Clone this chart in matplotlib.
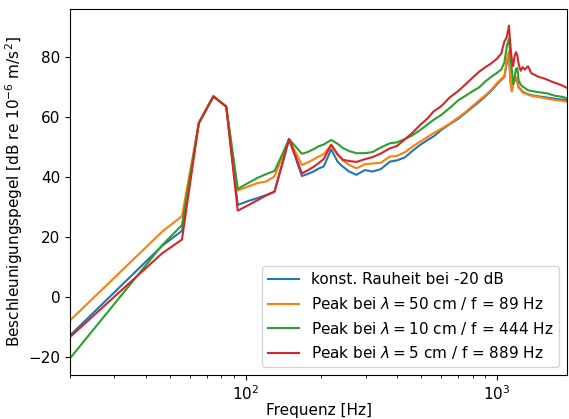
import matplotlib
matplotlib.use('Agg')
import matplotlib.pyplot as plt

plt.rcParams['font.size'] = 11

# Frequenzstuetzstellen [Hz]
freq = [20, 46.5, 55.8, 65.1, 74.4, 83.7, 93.0, 102.3, 111.6, 120.9, 130.2, 139.5,
        148.8, 158.1, 167.4, 176.7, 186.0, 195.3, 204.6, 219.0, 232.5, 244, 258, 276,
        298, 320, 345, 375, 400, 430, 460, 495, 530, 560, 600, 650, 700, 750, 800,
        850, 900, 950, 1000, 1040, 1070, 1095, 1116, 1132, 1146, 1160, 1175, 1190,
        1205, 1220, 1243, 1265, 1290, 1330, 1370, 1410, 1460, 1520, 1580, 1640, 1700,
        1770, 1840, 1900]

# Beschleunigungspegel [dB]
konst = [-12.7, 17.1, 22.1, 57.9, 66.8, 63.4, 30.7, 32.0, 33.0, 34.0, 35.1, 44.0,
         52.6, 46.3, 40.3, 41.0, 41.8, 42.8, 43.5, 49.2, 45.0, 43.4, 41.8, 40.7,
         42.3, 41.8, 42.6, 45.1, 45.5, 46.5, 48.6, 50.7, 52.3, 53.5, 55.6, 57.6, 59.3,
         61.3, 63.2, 65.0, 66.8, 68.7, 70.8, 72.3, 73.2, 78.0, 81.0, 71.5, 68.8,
         70.8, 72.0, 72.8, 71.5, 69.8, 69.2, 68.3, 68.0, 67.5, 67.2, 67.0, 66.8,
         66.6, 66.4, 66.2, 66.0, 65.8, 65.7, 65.6]

peak_50cm = [-7.7, 21.8, 27.0, 57.9, 66.8, 63.4, 35.5, 36.8, 38.0, 38.5, 40.2, 46.4,
             52.6, 48.2, 44.0, 44.8, 45.8, 46.8, 47.6, 50.7, 47.3, 45.5, 44.0, 42.9,
             44.2, 44.5, 44.7, 46.8, 47.0, 48.2, 50.0, 51.8, 53.3, 54.6, 56.0, 57.8,
             59.7, 61.6, 63.6, 65.5, 67.2, 69.0, 71.2, 72.6, 73.5, 79.0, 81.8, 72.0,
             68.4, 70.5, 72.5, 73.2, 72.0, 69.5, 69.0, 68.0, 67.8, 67.3, 67.0, 66.8,
             66.6, 66.3, 66.1, 65.8, 65.6, 65.4, 65.2, 65.0]

peak_10cm = [-20.3, 17.3, 24.0, 57.9, 66.8, 63.4, 36.0, 38.0, 39.7, 41.0, 42.0, 47.3,
             52.6, 50.1, 47.7, 48.3, 49.2, 50.2, 50.8, 52.3, 51.0, 49.6, 48.6, 47.9,
             47.9, 48.3, 49.8, 51.2, 51.5, 52.6, 53.8, 55.6, 57.5, 59.0, 60.6, 63.0,
             65.4, 67.0, 68.5, 69.8, 71.8, 73.3, 74.6, 75.7, 78.0, 83.5, 86.0, 80.0,
             75.7, 71.0, 73.0, 76.0, 76.2, 72.0, 70.7, 70.0, 69.6, 68.8, 68.6, 68.4,
             68.2, 68.0, 67.8, 67.4, 67.0, 66.8, 66.5, 66.2]

peak_5cm = [-13.2, 14.6, 19.2, 57.9, 66.8, 63.4, 28.8, 30.6, 32.3, 33.9, 35.1, 44.0,
            52.6, 46.8, 41.2, 42.2, 43.3, 44.6, 46.0, 50.7, 47.5, 45.7, 45.3, 45.0,
            45.9, 46.6, 47.8, 49.5, 50.3, 52.5, 54.6, 57.3, 59.5, 61.8, 63.5, 66.5,
            68.5, 70.8, 73.0, 75.0, 76.5, 77.8, 79.3, 81.0, 85.0, 86.5, 90.3, 83.4,
            79.0, 76.8, 80.0, 81.5, 80.5, 77.5, 75.3, 76.5, 75.7, 76.8, 74.5, 74.0,
            73.3, 72.9, 72.4, 71.8, 71.3, 70.8, 70.2, 69.6]

fig = plt.figure(figsize=(5.69, 4.19), dpi=100)
ax = fig.add_axes([70 / 569, 44 / 419, 497 / 569, 366 / 419])

ax.plot(freq, konst, label='konst. Rauheit bei -20 dB')
ax.plot(freq, peak_50cm, label=r'Peak bei $\lambda = 50$ cm / f = 89 Hz')
ax.plot(freq, peak_10cm, label=r'Peak bei $\lambda = 10$ cm / f = 444 Hz')
ax.plot(freq, peak_5cm, label=r'Peak bei $\lambda = 5$ cm / f = 889 Hz')

ax.set_xscale('log')
ax.set_xlim(20, 1900)
ax.set_xlabel('Frequenz [Hz]', labelpad=0)
ax.set_ylabel(r'Beschleunigungspegel [dB re $10^{-6}$ m/s$^2$]', labelpad=2)
ax.legend(loc='lower right')

fig.savefig('out.png', dpi=100)
